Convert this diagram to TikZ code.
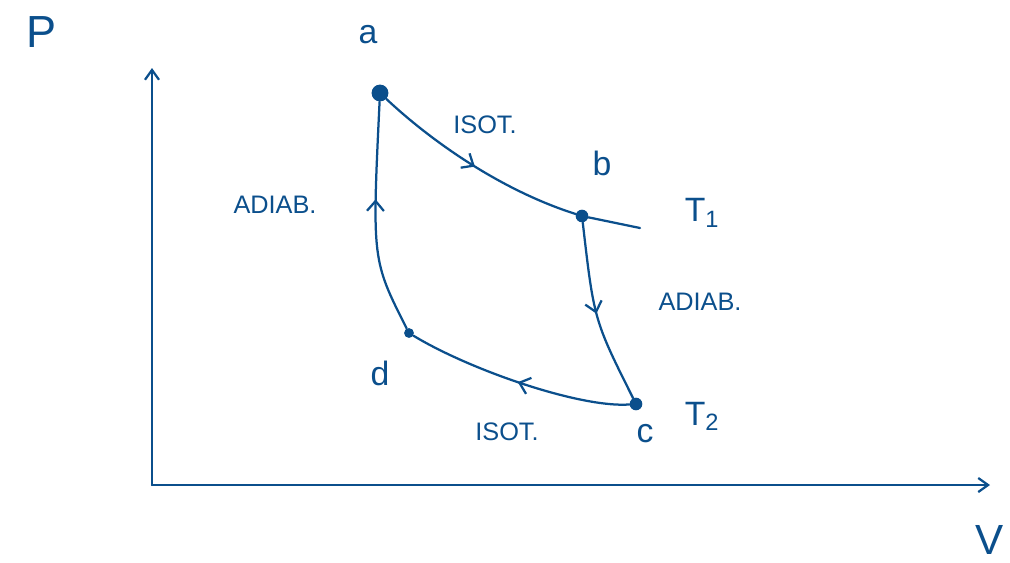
\documentclass[tikz,border=0pt]{standalone}
\usepackage{fontspec}
\setsansfont{Liberation Sans}
\usepackage{tikz}
\usetikzlibrary{arrows.meta, decorations.markings}
\definecolor{ink}{HTML}{0B4F8C}
\tikzset{
  curve/.style={draw=ink, line width=1.6pt, line cap=round},
  axis/.style={curve, -{Straight Barb[length=7pt, width=10pt]}},
  dot/.style={circle, fill=ink, inner sep=0pt, minimum size=9pt},
  lbl/.style={text=ink, font=\sffamily\fontsize{24}{26}\selectfont},
  note/.style={text=ink, font=\sffamily\fontsize{18}{20}\selectfont},
  midarr/.style={postaction={decorate, decoration={markings,
    mark=at position #1 with {\arrow[ink, line width=1.6pt]{Straight Barb[length=7pt, width=12pt]}}}}},
}
\begin{document}
\begin{tikzpicture}[x=0.025cm, y=-0.025cm]
  \useasboundingbox (0,0) rectangle (1010,562);
  % axes
  \coordinate (o) at (152,485);
  \coordinate (ptop) at (152,68);
  \coordinate (vend) at (990,485);
  \draw[axis] (o) -- (ptop);
  \draw[axis] (o) -- (vend);
  \node[lbl, font=\sffamily\fontsize{32}{34}\selectfont] (lblP) at (42,32) {P};
  \node[lbl, font=\sffamily\fontsize{30}{32}\selectfont] (lblV) at (990,540) {V};
  % states
  \node[dot, minimum size=12pt] (a) at (380,93) {};
  \node[dot] (b) at (582,216) {};
  \node[dot] (c) at (636,404) {};
  \node[dot, minimum size=7pt] (d) at (409,333) {};
  \node[lbl] (lblA) at (368,35) {a};
  \node[lbl] (lblB) at (602,163) {b};
  \node[lbl] (lblC) at (645,434) {c};
  \node[lbl] (lblD) at (380,373) {d};
  \coordinate (t1end) at (640,228);
  % isotherms
  \draw[curve, midarr=0.5] (a) .. controls (430,140) and (500,190) .. (b);
  \draw[curve] (b) -- (t1end);
  \draw[curve, midarr=0.5] (c) .. controls (580,408) and (470,370) .. (d);
  % adiabats
  \draw[curve, midarr=0.5] (b) .. controls (594,320) .. (c);
  \draw[curve, midarr=0.58] (d) .. controls (372,260) .. (a);
  % temperatures
  \node[lbl] (lblT1) at (702,213) {T\textsubscript{1}};
  \node[lbl] (lblT2) at (702,416) {T\textsubscript{2}};
  % process names
  \node[note] (isoTop) at (485,125) {ISOT.};
  \node[note] (isoBot) at (507,432) {ISOT.};
  \node[note] (adiL) at (275,205) {ADIAB.};
  \node[note] (adiR) at (700,302) {ADIAB.};
\end{tikzpicture}
\end{document}
